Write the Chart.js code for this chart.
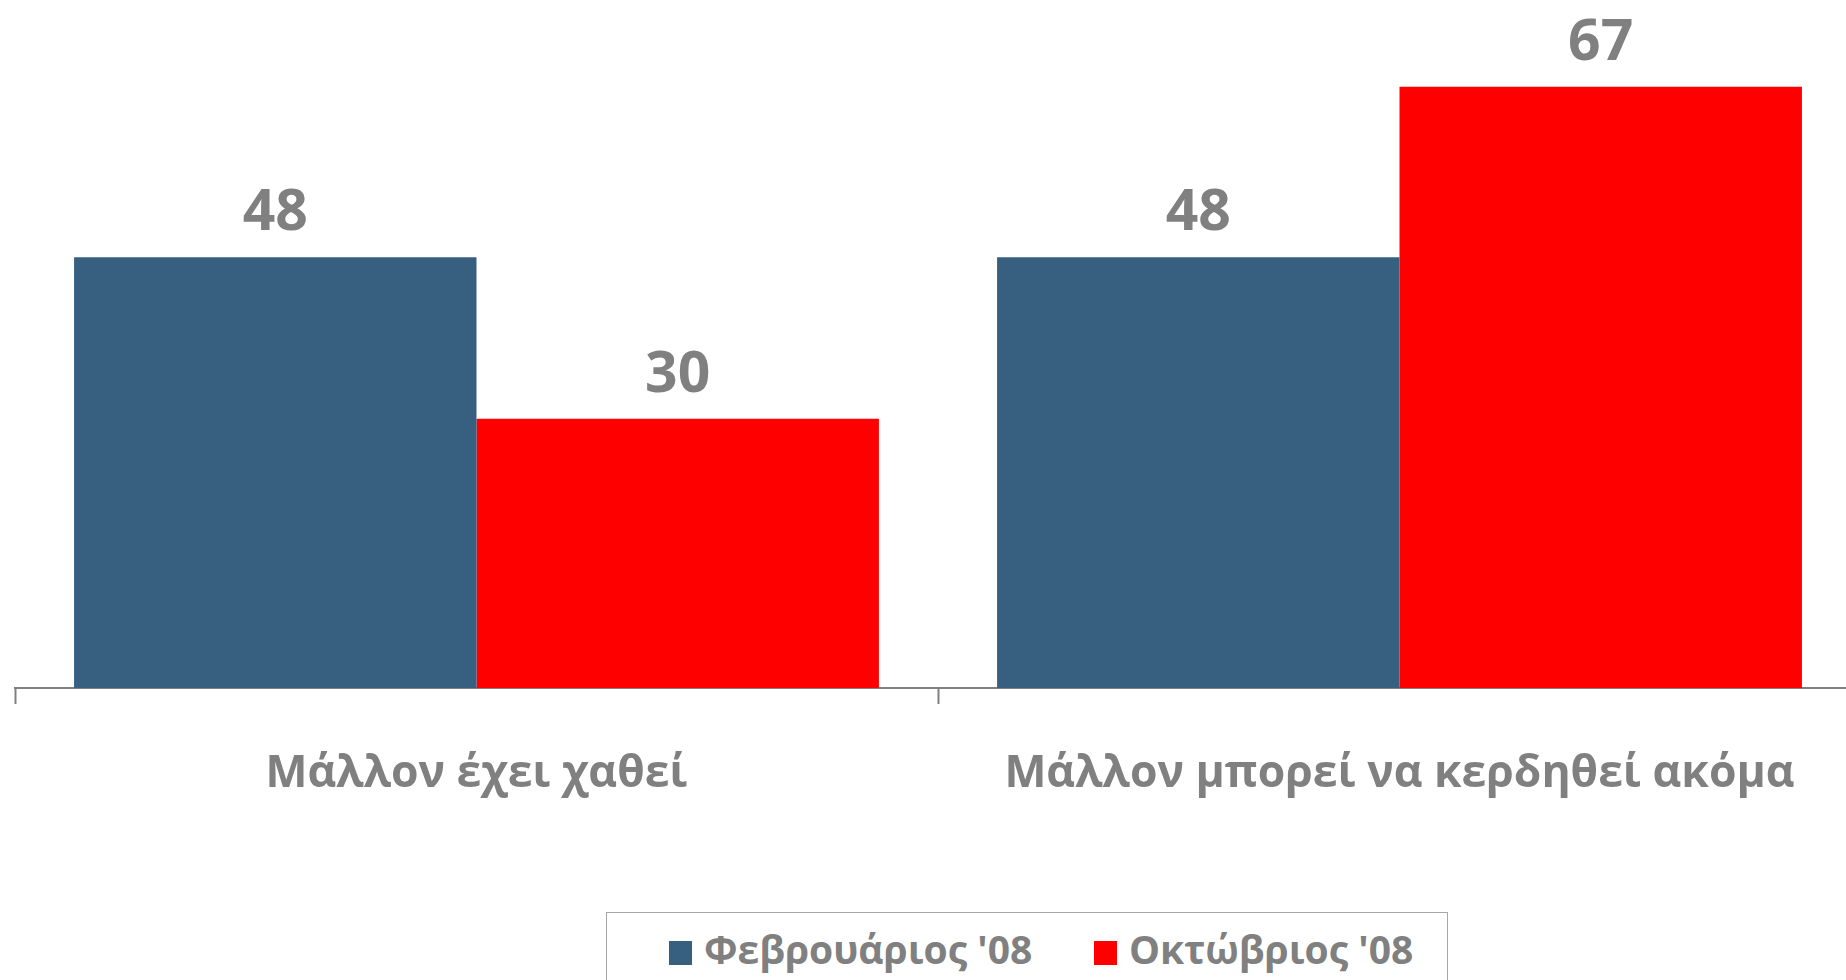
<!DOCTYPE html>
<html>
<head>
<meta charset="utf-8">
<script src="https://cdn.jsdelivr.net/npm/chart.js@4/dist/chart.umd.min.js"></script>
<style>
  html, body { margin: 0; padding: 0; background: #fff; overflow: hidden; }
  #wrap { position: absolute; left: 0; top: 0; width: 1870px; height: 900px; }
  #legend {
    position: absolute; left: 606px; top: 912px; width: 842px; height: 90px;
    border: 1px solid #a6a6a6; box-sizing: border-box;
    font: bold 39px "Open Sans", sans-serif; color: #808080;
  }
  .item { position: absolute; top: 15px; white-space: nowrap; line-height: 42px; }
  .sw { display: inline-block; width: 23px; height: 24px; vertical-align: -1px; margin-right: 12px; }
</style>
</head>
<body>
<div id="wrap"><canvas id="c" width="1870" height="900"></canvas></div>
<div id="legend"></div>
<script>
const categories = ["Μάλλον έχει χαθεί", "Μάλλον μπορεί να κερδηθεί ακόμα"];
const seriesNames = ["Φεβρουάριος '08", "Οκτώβριος '08"];
const febValues = [48, 48];
const octValues = [30, 67];
const colors = ["#365F80", "#FF0000"];

// value labels above each bar
const valueLabels = {
  id: "valueLabels",
  afterDatasetsDraw(chart) {
    const ctx = chart.ctx;
    ctx.save();
    ctx.font = "bold 57px 'Open Sans', sans-serif";
    ctx.fillStyle = "#808080";
    ctx.textAlign = "center";
    ctx.textBaseline = "middle";
    chart.data.datasets.forEach((ds, i) => {
      chart.getDatasetMeta(i).data.forEach((bar, j) => {
        ctx.fillText(ds.data[j], bar.x, bar.y - 43);
      });
    });
    ctx.restore();
  }
};

const chart = new Chart(document.getElementById("c").getContext("2d"), {
  type: "bar",
  data: {
    labels: categories,
    datasets: [
      { label: seriesNames[0], data: febValues, backgroundColor: colors[0] },
      { label: seriesNames[1], data: octValues, backgroundColor: colors[1] }
    ]
  },
  options: {
    responsive: false,
    animation: false,
    devicePixelRatio: 1,
    layout: { padding: { left: 15, right: 9, top: 6, bottom: 0 } },
    datasets: { bar: { categoryPercentage: 0.872, barPercentage: 1 } },
    plugins: { legend: { display: false }, tooltip: { enabled: false } },
    scales: {
      x: {
        afterFit(scale) { scale.height = 212; },
        grid: {
          offset: true,
          drawOnChartArea: false,
          drawTicks: true,
          tickLength: 16,
          tickWidth: 2,
          tickColor: "#808080"
        },
        border: { display: true, color: "#808080", width: 2 },
        ticks: {
          padding: 44,
          color: "#808080",
          font: { family: "'Open Sans', sans-serif", size: 44.5, weight: "bold" },
          maxRotation: 0
        }
      },
      y: { display: false, min: 0, max: 76 }
    }
  },
  plugins: [valueLabels]
});

// legend in a box below the chart
const legend = document.getElementById("legend");
const lefts = [62, 487];
seriesNames.forEach((name, i) => {
  const el = document.createElement("div");
  el.className = "item";
  el.style.left = lefts[i] + "px";
  el.innerHTML = '<span class="sw" style="background:' + colors[i] + '"></span>' + name;
  legend.appendChild(el);
});
</script>
</body>
</html>
